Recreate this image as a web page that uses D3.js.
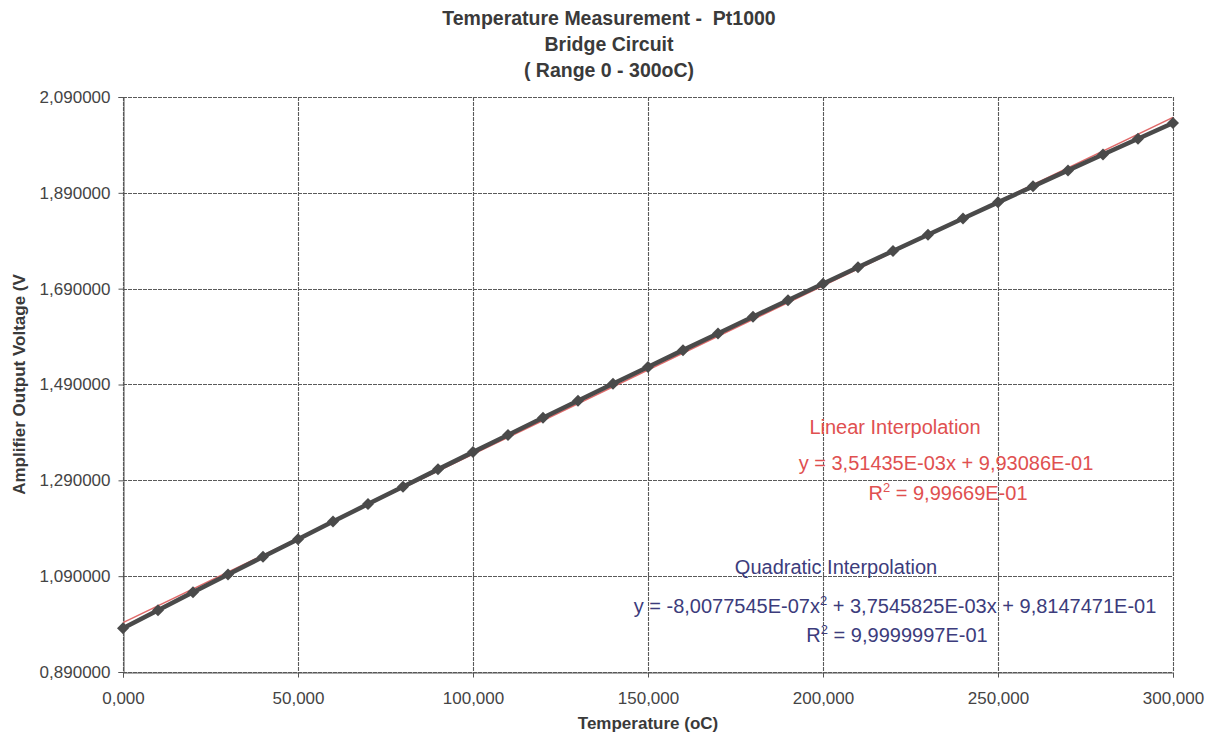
<!DOCTYPE html>
<html>
<head>
<meta charset="utf-8">
<script src="https://cdn.jsdelivr.net/npm/d3@7"></script>
<style>
  html, body { margin: 0; padding: 0; background: #fff; }
  svg { display: block; }
  text { font-family: "Liberation Sans", Arial, sans-serif; white-space: pre; }
</style>
</head>
<body>
<svg id="chart" width="1219" height="737"></svg>
<script>
// Measured temperature (oC)
const temperature = [0, 10, 20, 30, 40, 50, 60, 70, 80, 90, 100, 110, 120, 130, 140, 150,
  160, 170, 180, 190, 200, 210, 220, 230, 240, 250, 260, 270, 280, 290, 300];
// Amplifier output voltage (V)
const voltage = [0.9815, 1.0189, 1.0562, 1.0934, 1.1304, 1.1672, 1.2039, 1.2404, 1.2767, 1.3129,
  1.3489, 1.3848, 1.4205, 1.4560, 1.4914, 1.5266, 1.5617, 1.5966, 1.6314, 1.6659, 1.7004,
  1.7346, 1.7687, 1.8027, 1.8365, 1.8701, 1.9035, 1.9368, 1.9700, 2.0030, 2.0358];

// Trendline coefficients
const linearCoef = { slope: 3.51435e-3, intercept: 9.93086e-1 };
const quadCoef = { a: -8.0077545e-7, b: 3.7545825e-3, c: 9.8147471e-1 };

const xTicks = [0, 50, 100, 150, 200, 250, 300];
const yTicks = [0.89, 1.09, 1.29, 1.49, 1.69, 1.89, 2.09];

const titleLines = ["Temperature Measurement -  Pt1000", "Bridge Circuit", "( Range 0 - 300oC)"];
const linearLabels = ["Linear Interpolation", "y = 3,51435E-03x + 9,93086E-01"];
const quadLabels = ["Quadratic Interpolation"];

const svg = d3.select("#chart");
const plot = { left: 123, right: 1173, top: 97, bottom: 672 };

const x = d3.scaleLinear().domain([0, 300]).range([plot.left, plot.right]);
const y = d3.scaleLinear().domain([0.89, 2.09]).range([plot.bottom, plot.top]);

const fmtX = v => d3.format(".3f")(v).replace(".", ",");
const fmtY = v => d3.format(".6f")(v).replace(".", ",");

// Gridlines
const grid = svg.append("g").attr("stroke", "#5a5a5a").attr("stroke-width", 1.1)
  .attr("stroke-dasharray", "4,1");
grid.selectAll(".gx").data(xTicks).join("line")
  .attr("x1", d => Math.round(x(d)) + 0.5).attr("x2", d => Math.round(x(d)) + 0.5)
  .attr("y1", plot.top).attr("y2", plot.bottom);
grid.selectAll(".gy").data(yTicks).join("line")
  .attr("y1", d => Math.round(y(d)) + 0.5).attr("y2", d => Math.round(y(d)) + 0.5)
  .attr("x1", plot.left).attr("x2", plot.right);

// Axes
const xAxis = svg.append("g")
  .attr("transform", `translate(0,${Math.round(y(0.89)) + 0.5})`)
  .call(d3.axisBottom(x).tickValues(xTicks).tickFormat(fmtX).tickSize(5).tickPadding(14));
const yAxis = svg.append("g")
  .attr("transform", `translate(${Math.round(x(0)) + 0.5},0)`)
  .call(d3.axisLeft(y).tickValues(yTicks).tickFormat(fmtY).tickSize(5).tickPadding(8));
[xAxis, yAxis].forEach(g => {
  g.select(".domain").attr("stroke", "#555");
  g.selectAll(".tick line").attr("stroke", "#555");
  g.selectAll(".tick text").attr("fill", "#444").style("font-size", "17px")
    .style("font-family", "'Liberation Sans', Arial, sans-serif");
});

// Linear trendline
const linePath = d3.line().x(d => x(d[0])).y(d => y(d[1]));
svg.append("path")
  .datum([0, 300].map(t => [t, linearCoef.slope * t + linearCoef.intercept]))
  .attr("d", linePath).attr("fill", "none").attr("stroke", "#e06a6a").attr("stroke-width", 1.5);

// Quadratic trendline
svg.append("path")
  .datum(temperature.map(t => [t, quadCoef.a * t * t + quadCoef.b * t + quadCoef.c]))
  .attr("d", linePath).attr("fill", "none").attr("stroke", "#3c3c78").attr("stroke-width", 1);

// Measured series
const series = temperature.map((t, i) => [t, voltage[i]]);
svg.append("path").datum(series).attr("d", linePath)
  .attr("fill", "none").attr("stroke", "#4a4a4a").attr("stroke-width", 4.5);
svg.append("g").selectAll("path").data(series).join("path")
  .attr("transform", d => `translate(${x(d[0])},${y(d[1])}) rotate(45)`)
  .attr("d", d3.symbol(d3.symbolSquare, 72))
  .attr("fill", "#4a4a4a");

// Title
svg.append("g").selectAll("text").data(titleLines).join("text")
  .attr("x", 609).attr("y", (d, i) => 25 + i * 26)
  .attr("text-anchor", "middle").attr("fill", "#3a3a3a")
  .style("font-size", "19.5px").style("font-weight", "bold").text(d => d);

// Axis titles
svg.append("text").attr("x", 648).attr("y", 729).attr("text-anchor", "middle")
  .attr("fill", "#3a3a3a").style("font-size", "17px").style("font-weight", "bold")
  .text("Temperature (oC)");
svg.append("text").attr("transform", `translate(25,${(plot.top + plot.bottom) / 2}) rotate(-90)`)
  .attr("text-anchor", "middle").attr("fill", "#3a3a3a")
  .style("font-size", "17px").style("font-weight", "bold")
  .text("Amplifier Output Voltage (V");

// Trendline labels
const red = "#e05050", navy = "#3c3c7c";
const fs = "20px", sup = "13px";
svg.append("text").attr("x", 895).attr("y", 434).attr("text-anchor", "middle")
  .attr("fill", red).style("font-size", fs).text(linearLabels[0]);
svg.append("text").attr("x", 946).attr("y", 470).attr("text-anchor", "middle")
  .attr("fill", red).style("font-size", fs).text(linearLabels[1]);
const r1 = svg.append("text").attr("x", 948).attr("y", 500).attr("text-anchor", "middle")
  .attr("fill", red).style("font-size", fs);
r1.append("tspan").text("R");
r1.append("tspan").attr("dy", -8).style("font-size", sup).text("2");
r1.append("tspan").attr("dy", 8).text(" = 9,99669E-01");

svg.append("text").attr("x", 836).attr("y", 574).attr("text-anchor", "middle")
  .attr("fill", navy).style("font-size", fs).text(quadLabels[0]);
const q = svg.append("text").attr("x", 895).attr("y", 613).attr("text-anchor", "middle")
  .attr("fill", navy).style("font-size", fs);
q.append("tspan").text("y = -8,0077545E-07x");
q.append("tspan").attr("dy", -8).style("font-size", sup).text("2");
q.append("tspan").attr("dy", 8).text(" + 3,7545825E-03x + 9,8147471E-01");
const r2 = svg.append("text").attr("x", 897).attr("y", 642).attr("text-anchor", "middle")
  .attr("fill", navy).style("font-size", fs);
r2.append("tspan").text("R");
r2.append("tspan").attr("dy", -8).style("font-size", sup).text("2");
r2.append("tspan").attr("dy", 8).text(" = 9,9999997E-01");
</script>
</body>
</html>
